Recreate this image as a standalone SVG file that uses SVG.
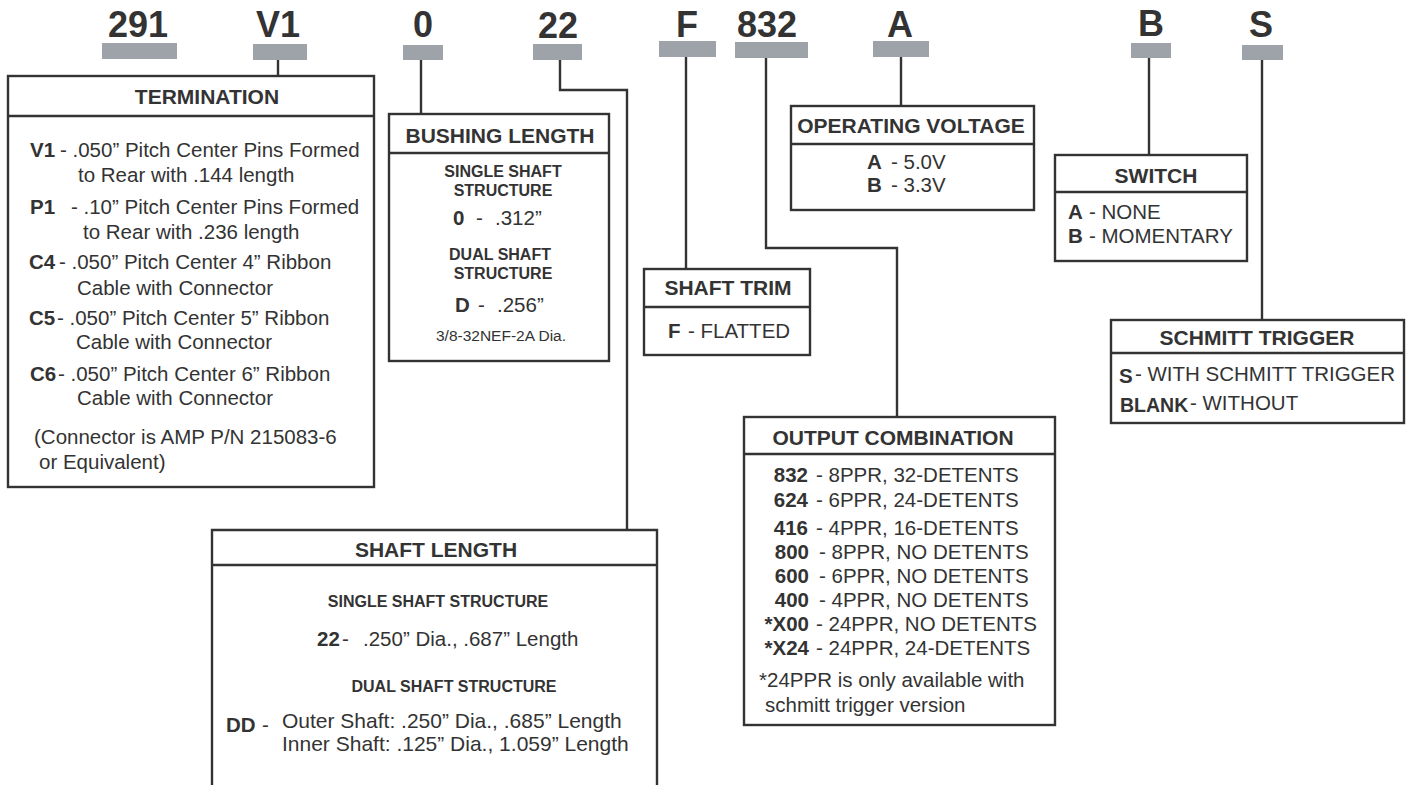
<svg xmlns="http://www.w3.org/2000/svg" width="1410" height="785" viewBox="0 0 1410 785">
<style>
text{font-family:"Liberation Sans",Arial,sans-serif;fill:#333}
.code{font-size:36px;font-weight:bold;text-anchor:middle}
.bar{fill:#9ea3aa}
.box{fill:#fff;stroke:#333;stroke-width:2.4}
.hdr{stroke:#333;stroke-width:2.4}
.title{font-size:21px;font-weight:bold;text-anchor:middle}
.t{font-size:20.5px}
.b{font-weight:bold}
.sub{font-size:16px;font-weight:bold;text-anchor:middle}
.mid{text-anchor:middle}
.end{text-anchor:end}
.wire{fill:none;stroke:#333;stroke-width:2.4}
</style>
<rect width="1410" height="785" fill="#fff"/>

<g id="codes">
<text class="code" x="138" y="37">291</text>
<rect class="bar" x="102" y="43" width="75" height="16"/>
<text class="code" x="278" y="37">V1</text>
<rect class="bar" x="253" y="44" width="54" height="16"/>
<text class="code" x="423" y="37">0</text>
<rect class="bar" x="403" y="45" width="40" height="15"/>
<text class="code" x="558" y="38">22</text>
<rect class="bar" x="533" y="44" width="49" height="16"/>
<text class="code" x="687" y="37">F</text>
<rect class="bar" x="659" y="41" width="57" height="16"/>
<text class="code" x="767" y="37">832</text>
<rect class="bar" x="735" y="42" width="73" height="16"/>
<text class="code" x="900" y="37">A</text>
<rect class="bar" x="873" y="41" width="56" height="16"/>
<text class="code" x="1151" y="36">B</text>
<rect class="bar" x="1131" y="43" width="40" height="15"/>
<text class="code" x="1261" y="37">S</text>
<rect class="bar" x="1242" y="45" width="41" height="15"/>
</g>

<g id="connectors">
<polyline class="wire" points="278,60 278,76"/>
<polyline class="wire" points="421,60 421,114"/>
<polyline class="wire" points="560,60 560,90 627,90 627,530"/>
<polyline class="wire" points="686,57 686,269"/>
<polyline class="wire" points="766,58 766,248 897,248 897,417"/>
<polyline class="wire" points="901,57 901,106"/>
<polyline class="wire" points="1149,58 1149,155"/>
<polyline class="wire" points="1262,60 1262,320"/>
</g>

<g id="termination">
<rect class="box" x="8" y="76" width="366" height="411"/>
<line class="hdr" x1="8" y1="116" x2="374" y2="116"/>
<text class="title" x="207" y="104">TERMINATION</text>
<text class="t b" x="30" y="157">V1</text><text class="t" x="60" y="157">- .050” Pitch Center Pins Formed</text>
<text class="t" x="78" y="182">to Rear with .144 length</text>
<text class="t b" x="30" y="214">P1</text><text class="t" x="71" y="214">- .10” Pitch Center Pins Formed</text>
<text class="t" x="83" y="239">to Rear with .236 length</text>
<text class="t b" x="29" y="269">C4</text><text class="t" x="59" y="269">- .050” Pitch Center 4” Ribbon</text>
<text class="t" x="77" y="295">Cable with Connector</text>
<text class="t b" x="29" y="325">C5</text><text class="t" x="57" y="325">- .050” Pitch Center 5” Ribbon</text>
<text class="t" x="76" y="349">Cable with Connector</text>
<text class="t b" x="30" y="381">C6</text><text class="t" x="58" y="381">- .050” Pitch Center 6” Ribbon</text>
<text class="t" x="77" y="405">Cable with Connector</text>
<text class="t" x="34" y="444">(Connector is AMP P/N 215083-6</text>
<text class="t" x="39" y="469">or Equivalent)</text>
</g>

<g id="bushing-length">
<rect class="box" x="389" y="114" width="220" height="247"/>
<line class="hdr" x1="389" y1="153" x2="609" y2="153"/>
<text class="title" x="500" y="143">BUSHING LENGTH</text>
<text class="sub" x="503" y="177">SINGLE SHAFT</text>
<text class="sub" x="503" y="196">STRUCTURE</text>
<text class="t b" x="453" y="225">0</text><text class="t" x="476" y="225">-</text><text class="t" x="495" y="225">.312”</text>
<text class="sub" x="500" y="260">DUAL SHAFT</text>
<text class="sub" x="503" y="279">STRUCTURE</text>
<text class="t b" x="455" y="312">D</text><text class="t" x="478" y="312">-</text><text class="t" x="497" y="312">.256”</text>
<text class="t mid" x="501" y="341" style="font-size:15.5px">3/8-32NEF-2A Dia.</text>
</g>

<g id="shaft-trim">
<rect class="box" x="644" y="269" width="166" height="86"/>
<line class="hdr" x1="644" y1="307" x2="810" y2="307"/>
<text class="title" x="728" y="295">SHAFT TRIM</text>
<text class="t b" x="668" y="338">F</text><text class="t" x="688" y="338">- FLATTED</text>
</g>

<g id="operating-voltage">
<rect class="box" x="791" y="106" width="243" height="104"/>
<line class="hdr" x1="791" y1="144" x2="1034" y2="144"/>
<text class="title" x="911" y="133">OPERATING VOLTAGE</text>
<text class="t b" x="867" y="169">A</text><text class="t" x="891" y="169">- 5.0V</text>
<text class="t b" x="867" y="192">B</text><text class="t" x="891" y="192">- 3.3V</text>
</g>

<g id="switch">
<rect class="box" x="1055" y="155" width="192" height="106"/>
<line class="hdr" x1="1055" y1="192" x2="1247" y2="192"/>
<text class="title" x="1156" y="183">SWITCH</text>
<text class="t b" x="1068" y="219">A</text><text class="t" x="1089" y="219">- NONE</text>
<text class="t b" x="1068" y="243">B</text><text class="t" x="1089" y="243">- MOMENTARY</text>
</g>

<g id="schmitt-trigger">
<rect class="box" x="1111" y="320" width="293" height="103"/>
<line class="hdr" x1="1111" y1="353" x2="1404" y2="353"/>
<text class="title" x="1257" y="345">SCHMITT TRIGGER</text>
<text class="t b" x="1119" y="383">S</text><text class="t" x="1135" y="381">- WITH SCHMITT TRIGGER</text>
<text class="t b" x="1120" y="412" style="font-size:19.5px">BLANK</text><text class="t" x="1190" y="410">- WITHOUT</text>
</g>

<g id="output-combination">
<rect class="box" x="744" y="417" width="311" height="308"/>
<line class="hdr" x1="744" y1="454" x2="1055" y2="454"/>
<text class="title" x="893" y="445">OUTPUT COMBINATION</text>
<text class="t b end" x="808" y="482">832</text><text class="t" x="816" y="482">- 8PPR, 32-DETENTS</text>
<text class="t b end" x="808" y="507">624</text><text class="t" x="816" y="507">- 6PPR, 24-DETENTS</text>
<text class="t b end" x="808" y="535">416</text><text class="t" x="816" y="535">- 4PPR, 16-DETENTS</text>
<text class="t b end" x="809" y="559">800</text><text class="t" x="819" y="559">- 8PPR, NO DETENTS</text>
<text class="t b end" x="809" y="583">600</text><text class="t" x="819" y="583">- 6PPR, NO DETENTS</text>
<text class="t b end" x="809" y="607">400</text><text class="t" x="819" y="607">- 4PPR, NO DETENTS</text>
<text class="t b end" x="809" y="631">*X00</text><text class="t" x="816" y="631">- 24PPR, NO DETENTS</text>
<text class="t b end" x="809" y="655">*X24</text><text class="t" x="816" y="655">- 24PPR, 24-DETENTS</text>
<text class="t" x="759" y="687">*24PPR is only available with</text>
<text class="t" x="765" y="712">schmitt trigger version</text>
</g>

<g id="shaft-length">
<path class="wire" d="M212,785 V530 H657 V785"/>
<line class="hdr" x1="212" y1="565" x2="657" y2="565"/>
<text class="title" x="436" y="557">SHAFT LENGTH</text>
<text class="sub" x="438" y="607">SINGLE SHAFT STRUCTURE</text>
<text class="t b" x="317" y="646">22</text><text class="t" x="342" y="646">-</text><text class="t" x="363" y="646">.250” Dia., .687” Length</text>
<text class="sub" x="454" y="692">DUAL SHAFT STRUCTURE</text>
<text class="t b" x="226" y="732">DD</text><text class="t" x="262" y="732">-</text>
<text class="t" x="282" y="728" style="font-size:21px">Outer Shaft: .250” Dia., .685” Length</text>
<text class="t" x="282" y="751" style="font-size:21px">Inner Shaft: .125” Dia., 1.059” Length</text>
</g>
</svg>
